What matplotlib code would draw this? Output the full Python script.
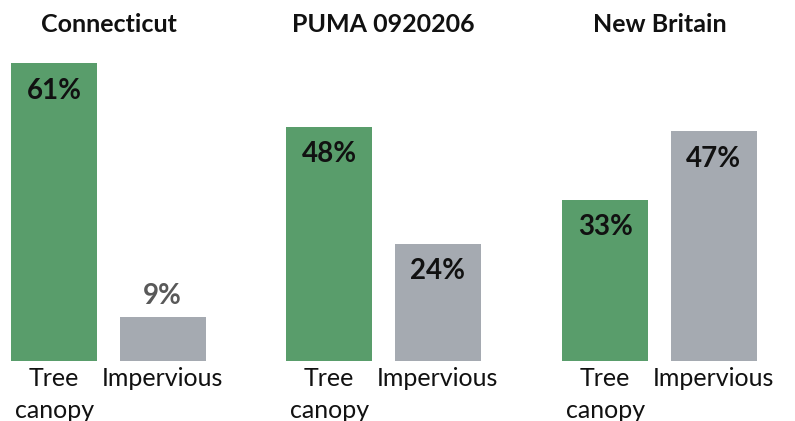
import matplotlib
matplotlib.use("Agg")
import matplotlib.pyplot as plt

plt.rcParams['font.family'] = ['Lato', 'DejaVu Sans']

regions = ["Connecticut", "PUMA 0920206", "New Britain"]
categories = ["Tree\ncanopy", "Impervious"]
tree_canopy = [61, 48, 33]
impervious = [9, 24, 47]

green = "#599d6b"
grey = "#a5aab1"

W, H = 795, 421
fig = plt.figure(figsize=(W / 100, H / 100), dpi=100)

panel_lefts = [0, 275, 551]
panel_w = 217
base_y = 361
px_per_pct = 4.885
ymax = 65

for i, region in enumerate(regions):
    left = panel_lefts[i] / W
    bottom = (H - base_y) / H
    height = ymax * px_per_pct / H
    ax = fig.add_axes([left, bottom, panel_w / W, height])
    vals = [tree_canopy[i], impervious[i]]
    ax.bar([0, 1], vals, width=0.795, color=[green, grey])
    ax.set_xlim(-0.5, 1.5)
    ax.set_ylim(0, ymax)
    for s in ax.spines.values():
        s.set_visible(False)
    ax.set_yticks([])
    ax.set_xticks([0, 1])
    ax.set_xticklabels(categories, fontsize=18, color="#111111", linespacing=1.45)
    ax.tick_params(axis='x', length=0, pad=4.5)
    for x, v in zip([0, 1], vals):
        if v >= 15:
            ax.annotate(f"{v}%", (x, v), xytext=(0, -19.8), textcoords="offset points",
                        ha="center", va="center", fontsize=20, fontweight="bold",
                        color="#111111")
        else:
            ax.annotate(f"{v}%", (x, v), xytext=(0, 14.8), textcoords="offset points",
                        ha="center", va="center", fontsize=20, fontweight="bold",
                        color="#595959")
    fig.text((panel_lefts[i] + panel_w / 2) / W, 1 - 24 / H, region,
             ha="center", va="center", fontsize=18, fontweight="bold", color="#111111")

fig.savefig("out.png", dpi=100)
